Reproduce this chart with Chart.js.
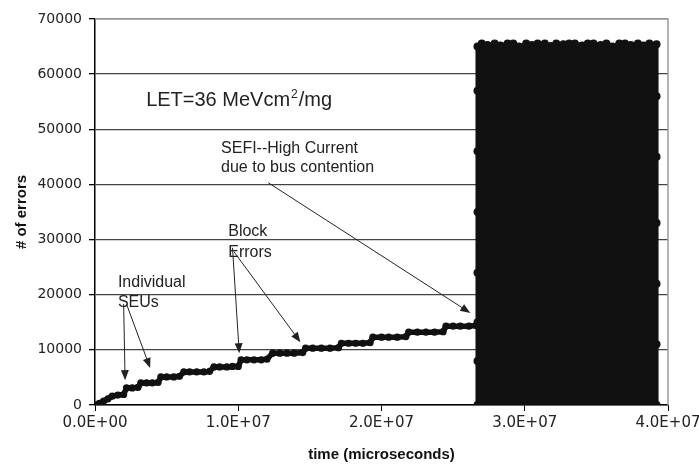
<!DOCTYPE html>
<html>
<head>
<meta charset="utf-8">
<script src="https://cdn.jsdelivr.net/npm/chart.js@4.4.0/dist/chart.umd.min.js"></script>
<style>
  html, body { margin: 0; padding: 0; background: #fff; }
</style>
</head>
<body>
<canvas id="errors" width="699" height="468"></canvas>
<script>
'use strict';

// staircase of individual SEUs / block errors (time in microseconds)
var stairTime = [0, 0.03e7, 0.06e7, 0.09e7, 0.12e7, 0.16e7, 0.20e7,
  0.22e7, 0.26e7, 0.30e7, 0.32e7, 0.36e7, 0.40e7, 0.44e7,
  0.46e7, 0.50e7, 0.55e7, 0.59e7, 0.62e7, 0.66e7, 0.71e7, 0.76e7, 0.80e7,
  0.83e7, 0.87e7, 0.92e7, 0.96e7, 1.00e7, 1.02e7, 1.06e7, 1.11e7, 1.16e7, 1.20e7,
  1.24e7, 1.29e7, 1.34e7, 1.39e7, 1.45e7, 1.47e7, 1.52e7, 1.58e7, 1.64e7, 1.70e7,
  1.72e7, 1.77e7, 1.82e7, 1.87e7, 1.92e7, 1.94e7, 2.00e7, 2.05e7, 2.11e7, 2.17e7,
  2.19e7, 2.25e7, 2.31e7, 2.37e7, 2.43e7, 2.45e7, 2.50e7, 2.55e7, 2.61e7, 2.66e7];
var stairErrors = [0, 300, 700, 1100, 1600, 1800, 1900,
  3100, 3100, 3200, 4000, 4000, 4000, 4100,
  5100, 5100, 5100, 5200, 6000, 6000, 6000, 6000, 6100,
  6900, 6900, 6900, 7000, 7000, 8200, 8200, 8200, 8200, 8300,
  9400, 9400, 9400, 9400, 9500, 10300, 10300, 10300, 10300, 10400,
  11200, 11200, 11200, 11200, 11300, 12300, 12300, 12300, 12300, 12400,
  13200, 13200, 13200, 13200, 13300, 14300, 14300, 14300, 14300, 14400];

// SEFI: counter saturates and wraps
var sefiTime = [2.67e7, 2.67e7, 2.67e7, 2.67e7, 2.67e7, 2.67e7, 2.67e7, 2.67e7,
  2.70e7, 2.74e7, 2.79e7, 2.83e7, 2.88e7, 2.92e7, 2.96e7, 3.01e7, 3.05e7,
  3.09e7, 3.14e7, 3.18e7, 3.22e7, 3.27e7, 3.31e7, 3.35e7, 3.40e7, 3.44e7,
  3.48e7, 3.53e7, 3.57e7, 3.61e7, 3.66e7, 3.70e7, 3.74e7, 3.79e7, 3.83e7,
  3.87e7, 3.92e7, 3.92e7, 3.92e7, 3.92e7, 3.92e7, 3.92e7, 3.92e7];
var sefiErrors = [0, 8000, 15000, 24000, 35000, 46000, 57000, 65000,
  65535, 65300, 65535, 65200, 65535, 65535, 65000, 65535, 65300,
  65535, 65535, 65100, 65535, 65400, 65535, 65535, 65200, 65535,
  65535, 65300, 65535, 65000, 65535, 65535, 65300, 65535, 65200,
  65535, 65400, 56000, 45000, 33000, 22000, 11000, 0];

var xTicks = [0, 1e7, 2e7, 3e7, 4e7];
var yMax = 70000;

var notes = [
  { text: ['LET=36 MeVcm', '2', '/mg'], t: 0.357e7, e: 54200, size: 20 },
  { text: ['SEFI--High Current'], t: 0.88e7, e: 45700, size: 16 },
  { text: ['due to bus contention'], t: 0.88e7, e: 42300, size: 16 },
  { text: ['Block'], t: 0.93e7, e: 30600, size: 16 },
  { text: ['Errors'], t: 0.93e7, e: 26900, size: 16 },
  { text: ['Individual'], t: 0.16e7, e: 21400, size: 16 },
  { text: ['SEUs'], t: 0.16e7, e: 17800, size: 16 }
];
var arrows = [
  [0.20e7, 18300, 0.21e7, 4500],
  [0.22e7, 18300, 0.385e7, 6700],
  [0.96e7, 28500, 1.007e7, 9400],
  [0.97e7, 27800, 1.434e7, 11400],
  [1.21e7, 40300, 2.62e7, 16700]
];

function pts(xs, ys) {
  return xs.map(function (x, i) { return { x: x, y: ys[i] }; });
}

function sci(v) {
  if (v === 0) return '0.0E+00';
  return (v / 1e7).toFixed(1) + 'E+07';
}

var notesPlugin = {
  id: 'notes',
  beforeDatasetsDraw: function (chart) {
    var a = chart.chartArea, ctx = chart.ctx;
    ctx.save();
    ctx.strokeStyle = '#9a9a9a';
    ctx.lineWidth = 1.5;
    ctx.beginPath();
    ctx.moveTo(a.left, a.top);
    ctx.lineTo(a.right, a.top);
    ctx.lineTo(a.right, a.bottom);
    ctx.stroke();
    ctx.restore();
  },
  afterDatasetsDraw: function (chart) {
    var ctx = chart.ctx, xs = chart.scales.x, ys = chart.scales.y;
    ctx.save();
    ctx.fillStyle = '#222';
    ctx.textBaseline = 'alphabetic';
    notes.forEach(function (n) {
      var x = xs.getPixelForValue(n.t), y = ys.getPixelForValue(n.e);
      ctx.font = n.size + 'px "Liberation Sans", Arial, sans-serif';
      ctx.fillText(n.text[0], x, y);
      if (n.text.length > 1) {
        var w = ctx.measureText(n.text[0]).width;
        ctx.font = Math.round(n.size * 0.62) + 'px "Liberation Sans", Arial, sans-serif';
        ctx.fillText(n.text[1], x + w + 1, y - n.size * 0.42);
        var w2 = ctx.measureText(n.text[1]).width;
        ctx.font = n.size + 'px "Liberation Sans", Arial, sans-serif';
        ctx.fillText(n.text[2], x + w + w2 + 2, y);
      }
    });
    ctx.strokeStyle = '#222';
    ctx.lineWidth = 1;
    arrows.forEach(function (r) {
      var x1 = xs.getPixelForValue(r[0]), y1 = ys.getPixelForValue(r[1]);
      var x2 = xs.getPixelForValue(r[2]), y2 = ys.getPixelForValue(r[3]);
      var ang = Math.atan2(y2 - y1, x2 - x1);
      ctx.beginPath();
      ctx.moveTo(x1, y1);
      ctx.lineTo(x2 - 8 * Math.cos(ang), y2 - 8 * Math.sin(ang));
      ctx.stroke();
      ctx.beginPath();
      ctx.moveTo(x2, y2);
      ctx.lineTo(x2 - 10 * Math.cos(ang) + 4 * Math.sin(ang), y2 - 10 * Math.sin(ang) - 4 * Math.cos(ang));
      ctx.lineTo(x2 - 10 * Math.cos(ang) - 4 * Math.sin(ang), y2 - 10 * Math.sin(ang) + 4 * Math.cos(ang));
      ctx.closePath();
      ctx.fill();
    });
    ctx.restore();
  }
};

var ctx = document.getElementById('errors').getContext('2d');

new Chart(ctx, {
  type: 'scatter',
  data: {
    datasets: [
      {
        label: 'SEU',
        data: pts(stairTime, stairErrors),
        showLine: true,
        borderColor: '#111',
        borderWidth: 5.5,
        pointRadius: 3.6,
        pointBackgroundColor: '#111',
        pointBorderColor: '#111',
        pointBorderWidth: 0
      },
      {
        label: 'SEFI',
        data: pts(sefiTime, sefiErrors),
        showLine: true,
        fill: 'origin',
        backgroundColor: '#111',
        borderColor: '#111',
        borderWidth: 4,
        pointRadius: 4,
        pointBackgroundColor: '#111',
        pointBorderColor: '#111',
        pointBorderWidth: 0
      }
    ]
  },
  plugins: [notesPlugin],
  options: {
    responsive: false,
    animation: false,
    layout: { padding: { top: 19, right: 31, left: 0, bottom: 0 } },
    plugins: {
      legend: { display: false },
      tooltip: { enabled: false }
    },
    scales: {
      x: {
        type: 'linear',
        min: 0,
        max: 4e7,
        afterBuildTicks: function (s) { s.ticks = xTicks.map(function (v) { return { value: v }; }); },
        ticks: {
          callback: sci,
          color: '#222',
          padding: 3,
          maxRotation: 0,
          font: { family: '"DejaVu Sans"', size: 15 }
        },
        grid: { drawOnChartArea: false, tickLength: 6, tickColor: '#000', tickWidth: 1 },
        border: { color: '#000', width: 1.5 },
        title: {
          display: true,
          text: 'time (microseconds)',
          color: '#111',
          font: { family: '"Liberation Sans"', size: 15, weight: 'bold' },
          padding: { top: 0, bottom: 4 }
        },
        afterFit: function (s) { s.height = 63; s.paddingLeft = 0; s.paddingRight = 0; }
      },
      y: {
        min: 0,
        max: yMax,
        ticks: {
          stepSize: 10000,
          callback: function (v) { return String(v); },
          color: '#222',
          padding: 7,
          font: { family: '"DejaVu Sans"', size: 14 }
        },
        grid: {
          color: function (c) { return c.tick && c.tick.value === yMax ? '#9a9a9a' : '#444'; },
          lineWidth: 1.3,
          tickLength: 6,
          tickColor: '#000'
        },
        border: { color: '#000', width: 1.5 },
        title: {
          display: true,
          text: '# of errors',
          color: '#111',
          font: { family: '"Liberation Sans"', size: 15, weight: 'bold' },
          padding: { top: 13, bottom: 0 }
        },
        afterFit: function (s) { s.width = 95; s.paddingTop = 0; s.paddingBottom = 0; }
      }
    }
  }
});
</script>
</body>
</html>
